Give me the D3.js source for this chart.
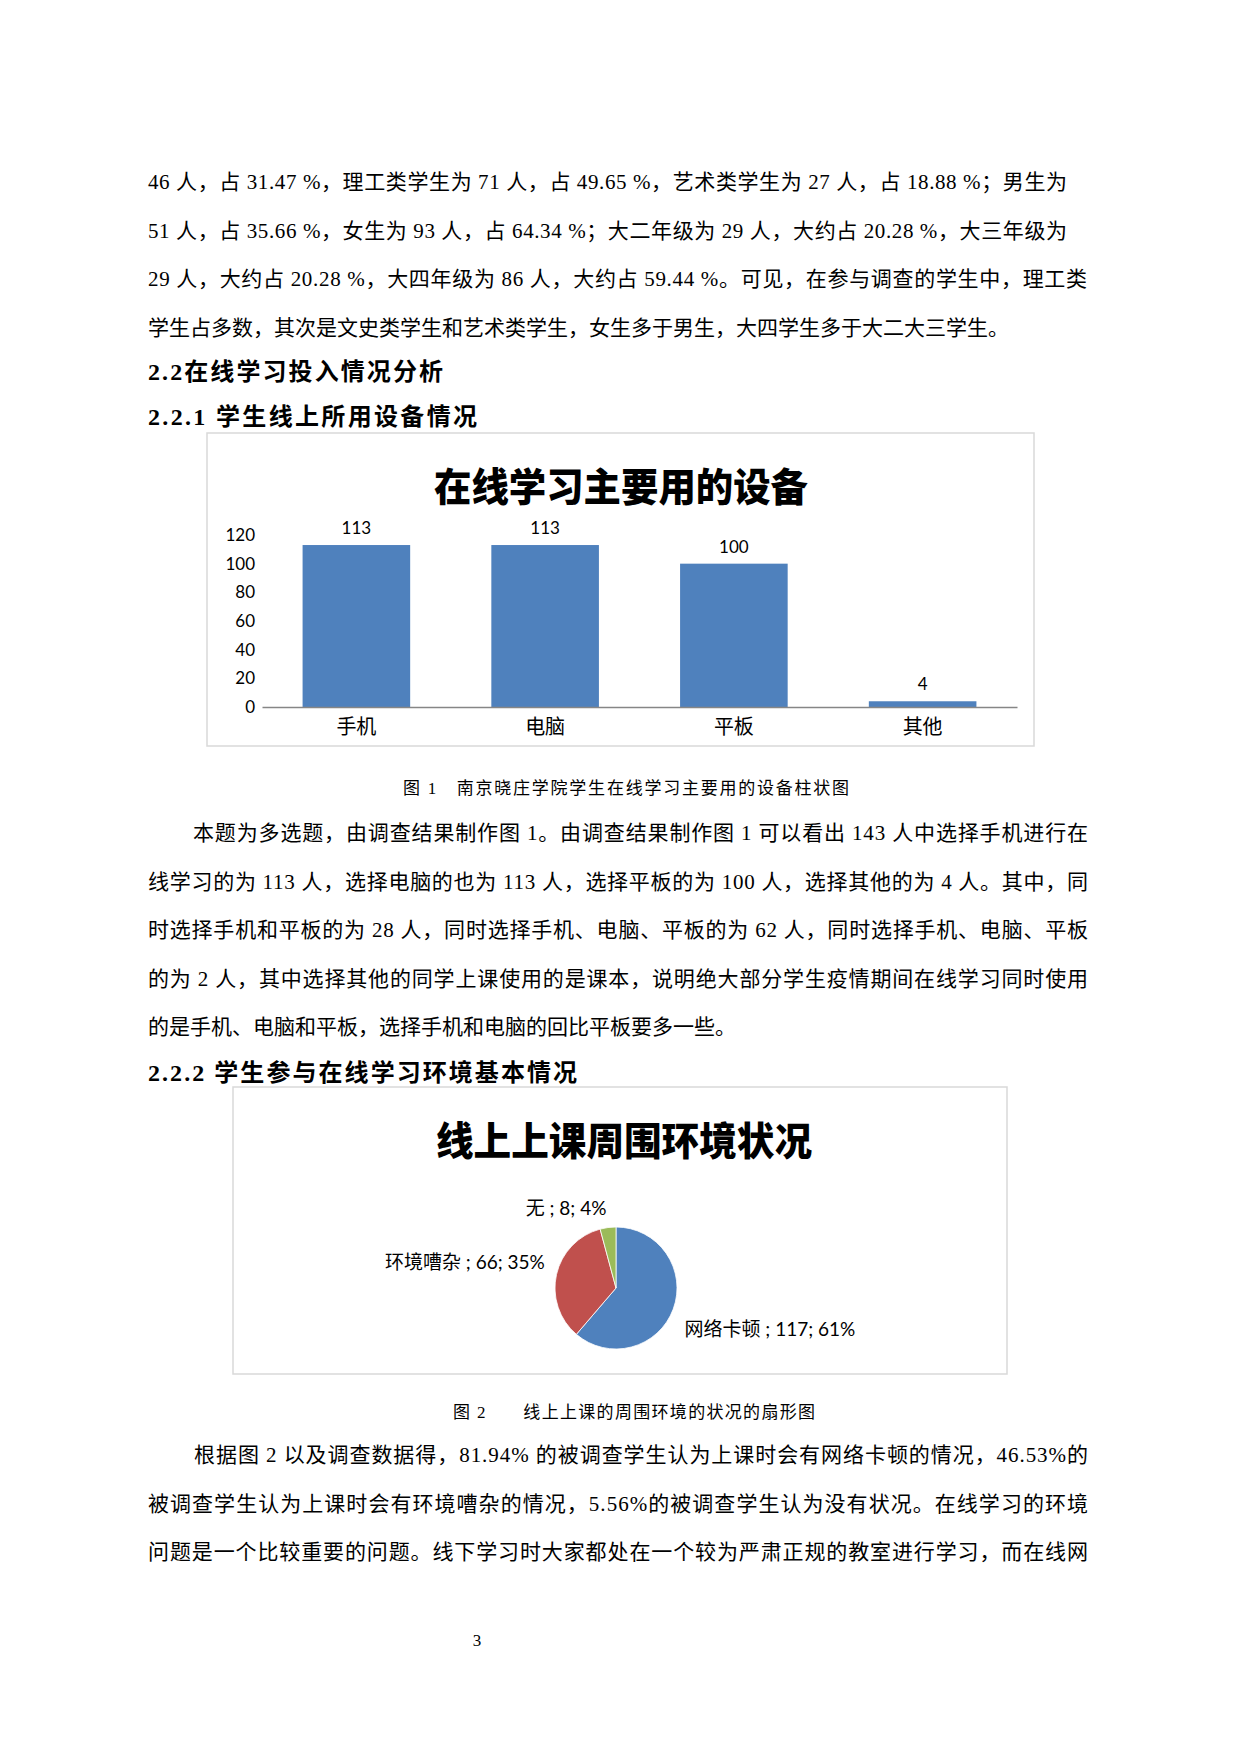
<!DOCTYPE html>
<html lang="zh">
<head>
<meta charset="utf-8">
<title>在线学习主要用的设备</title>
<script src="https://d3js.org/d3.v7.min.js"></script>
<style>
  body { margin: 0; background: #fff; }
  .body-text { font-family: "Liberation Serif", "Noto Sans CJK SC", serif; font-size: 21px; fill: #000; }
  .heading { font-family: "Liberation Serif", "Noto Sans CJK SC", serif; font-size: 24px; font-weight: bold; fill: #000; }
  .caption { font-family: "Liberation Serif", "Noto Sans CJK SC", serif; font-size: 17px; fill: #000; }
  .chart-title { font-family: "Noto Sans CJK SC", sans-serif; font-size: 39px; font-weight: 900; fill: #000; }
  .tick text { font-family: Lato, "Noto Sans CJK SC", sans-serif; fill: #000; }
</style>
</head>
<body>
<svg width="1240" height="1754"></svg>
<script>

// chart 1 data
var deviceCats = ["手机", "电脑", "平板", "其他"];
var deviceCounts = [113, 113, 100, 4];
var deviceTicks = [0, 20, 40, 60, 80, 100, 120];

// chart 2 data
var envCats = ["网络卡顿", "环境嘈杂", "无"];
var envCounts = [117, 66, 8];
var envPct = ["61%", "35%", "4%"];

// page text
var para1 = [
  "46 人，占 31.47 %，理工类学生为 71 人，占 49.65 %，艺术类学生为 27 人，占 18.88 %；男生为",
  "51 人，占 35.66 %，女生为 93 人，占 64.34 %；大二年级为 29 人，大约占 20.28 %，大三年级为",
  "29 人，大约占 20.28 %，大四年级为 86 人，大约占 59.44 %。可见，在参与调查的学生中，理工类",
  "学生占多数，其次是文史类学生和艺术类学生，女生多于男生，大四学生多于大二大三学生。"
];
var para2 = [
  "本题为多选题，由调查结果制作图 1。由调查结果制作图 1 可以看出 143 人中选择手机进行在",
  "线学习的为 113 人，选择电脑的也为 113 人，选择平板的为 100 人，选择其他的为 4 人。其中，同",
  "时选择手机和平板的为 28 人，同时选择手机、电脑、平板的为 62 人，同时选择手机、电脑、平板",
  "的为 2 人，其中选择其他的同学上课使用的是课本，说明绝大部分学生疫情期间在线学习同时使用",
  "的是手机、电脑和平板，选择手机和电脑的回比平板要多一些。"
];
var para3 = [
  "根据图 2 以及调查数据得，81.94% 的被调查学生认为上课时会有网络卡顿的情况，46.53%的",
  "被调查学生认为上课时会有环境嘈杂的情况，5.56%的被调查学生认为没有状况。在线学习的环境",
  "问题是一个比较重要的问题。线下学习时大家都处在一个较为严肃正规的教室进行学习，而在线网"
];

var svg = d3.select("svg");
svg.append("rect").attr("width", 1240).attr("height", 1754).attr("fill", "#fff");

function line(txt, cls, x, y, endX) {
  var t = svg.append("text")
      .attr("class", cls)
      .attr("x", x)
      .attr("y", y)
      .attr("dominant-baseline", "central")
      .text(txt);
  if (endX) {
    t.attr("textLength", endX - x).attr("lengthAdjust", "spacing");
  }
  return t;
}

// paragraph 1
var p1Ends = [1067, 1067, 1087, null];
para1.forEach(function(s, i) {
  line(s, "body-text", 148, 182 + i * 48.7, p1Ends[i]);
});

line("2.2在线学习投入情况分析", "heading", 148, 372, 443);
line("2.2.1 学生线上所用设备情况", "heading", 148, 417, 477);

// ---------- bar chart ----------
svg.append("rect")
    .attr("x", 207).attr("y", 433)
    .attr("width", 1034 - 207).attr("height", 746 - 433)
    .attr("fill", "#fff")
    .attr("stroke", "#d9d9d9")
    .attr("stroke-width", 1.5);

svg.append("text")
    .attr("class", "chart-title")
    .attr("x", 434).attr("y", 484)
    .attr("dominant-baseline", "central")
    .attr("textLength", 374)
    .attr("lengthAdjust", "spacingAndGlyphs")
    .text("在线学习主要用的设备");

var xScale = d3.scaleBand()
    .domain(deviceCats)
    .range([262, 1017])
    .paddingInner(0.43)
    .paddingOuter(0.215);

var yScale = d3.scaleLinear()
    .domain([0, 120])
    .range([707, 535]);

// y axis
svg.append("g")
    .attr("class", "axis y-axis")
    .attr("transform", "translate(262,0)")
    .call(d3.axisLeft(yScale).tickValues(deviceTicks).tickSize(0).tickPadding(7))
    .call(function(g) { g.select(".domain").remove(); })
    .selectAll("text")
    .attr("font-size", "17px");

// bars
svg.selectAll(".bar")
  .data(deviceCounts)
  .enter().append("rect")
    .attr("class", "bar")
    .attr("x", function(d, i) { return xScale(deviceCats[i]); })
    .attr("y", function(d) { return yScale(d); })
    .attr("width", xScale.bandwidth())
    .attr("height", function(d) { return yScale(0) - yScale(d); })
    .attr("fill", "#4f81bd");

// bar value labels
svg.selectAll(".bar-label")
  .data(deviceCounts)
  .enter().append("text")
    .attr("class", "bar-label")
    .attr("x", function(d, i) { return xScale(deviceCats[i]) + xScale.bandwidth() / 2; })
    .attr("y", function(d) { return yScale(d) - 11; })
    .attr("text-anchor", "middle")
    .attr("font-family", "Lato, sans-serif")
    .attr("font-size", "17px")
    .text(function(d) { return d; });

// x axis (baseline + category labels)
svg.append("g")
    .attr("class", "axis x-axis")
    .attr("transform", "translate(0," + yScale(0) + ")")
    .call(d3.axisBottom(xScale).tickSize(0).tickPadding(13))
    .call(function(g) {
      g.select(".domain").attr("stroke", "#868686").attr("stroke-width", 1.5);
    })
    .selectAll("text")
    .attr("font-family", "\"Noto Sans CJK SC\", sans-serif")
    .attr("font-size", "20px");

line("图 1　南京晓庄学院学生在线学习主要用的设备柱状图", "caption", 403, 788, 849);

// paragraph 2
para2.forEach(function(s, i) {
  var x = i === 0 ? 193 : 148;
  var end = i < 4 ? 1088 : null;
  line(s, "body-text", x, 833 + i * 48.5, end);
});

line("2.2.2 学生参与在线学习环境基本情况", "heading", 148, 1073, 577);

// ---------- pie chart ----------
svg.append("rect")
    .attr("x", 233).attr("y", 1087)
    .attr("width", 1007 - 233).attr("height", 1374 - 1087)
    .attr("fill", "#fff")
    .attr("stroke", "#d9d9d9")
    .attr("stroke-width", 1.5);

svg.append("text")
    .attr("class", "chart-title")
    .attr("x", 436).attr("y", 1138)
    .attr("dominant-baseline", "central")
    .attr("textLength", 376)
    .attr("lengthAdjust", "spacingAndGlyphs")
    .text("线上上课周围环境状况");

var cx = 616, cy = 1288, r = 61;
var pieColors = ["#4f81bd", "#c0504d", "#9bbb59"];

var pie = d3.pie().sort(null).value(function(d) { return d; });
var arcs = pie(envCounts);
var arc = d3.arc().innerRadius(0).outerRadius(r);

var pg = svg.append("g").attr("transform", "translate(" + cx + "," + cy + ")");

pg.selectAll("path")
  .data(arcs)
  .enter().append("path")
    .attr("d", arc)
    .attr("fill", function(d, i) { return pieColors[i]; })
    .attr("stroke", "#fff")
    .attr("stroke-width", 0.8);

// labels placed just outside each slice
var anchors = ["start", "end", "end"];
var nudgeY = [15, -10, -8];
pg.selectAll(".pie-label")
  .data(arcs)
  .enter().append("text")
    .attr("class", "pie-label")
    .attr("x", function(d) {
      var a = (d.startAngle + d.endAngle) / 2;
      return Math.sin(a) * (r + 12);
    })
    .attr("y", function(d, i) {
      var a = (d.startAngle + d.endAngle) / 2;
      return -Math.cos(a) * (r + 12) + nudgeY[i];
    })
    .attr("text-anchor", function(d, i) { return anchors[i]; })
    .attr("dominant-baseline", "central")
    .attr("font-family", "Lato, \"Noto Sans CJK SC\", sans-serif")
    .attr("font-size", "19px")
    .text(function(d, i) { return envCats[i] + " ; " + envCounts[i] + "; " + envPct[i]; });

line("图 2　　线上上课的周围环境的状况的扇形图", "caption", 453, 1412, 815);

// paragraph 3
para3.forEach(function(s, i) {
  var x = i === 0 ? 194 : 148;
  line(s, "body-text", x, 1455 + i * 48.5, 1088);
});

// page number
svg.append("text")
    .attr("x", 477).attr("y", 1640)
    .attr("text-anchor", "middle")
    .attr("dominant-baseline", "central")
    .attr("font-family", "\"Liberation Serif\", serif")
    .attr("font-size", "17px")
    .text("3");

</script>
</body>
</html>
